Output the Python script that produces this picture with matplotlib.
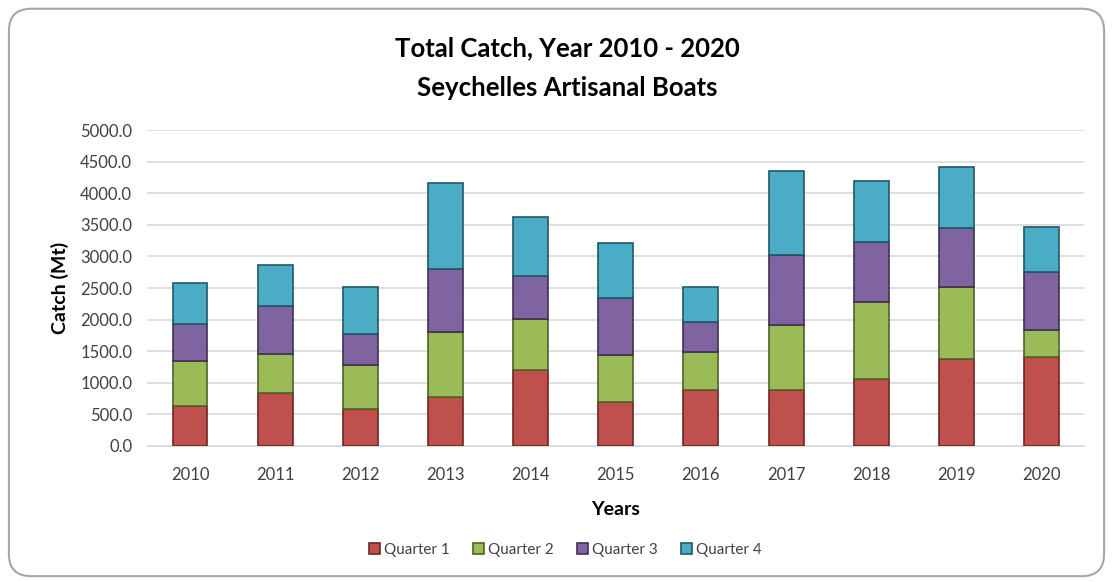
import matplotlib.pyplot as plt
from matplotlib.patches import FancyBboxPatch
from matplotlib.ticker import FormatStrFormatter

plt.rcParams['font.family'] = ['Lato', 'DejaVu Sans']

years = ['2010', '2011', '2012', '2013', '2014', '2015', '2016', '2017', '2018', '2019', '2020']
quarter_1 = [629, 840, 592, 776, 1199, 697, 882, 882, 1067, 1384, 1410]
quarter_2 = [717, 623, 686, 1030, 803, 739, 607, 1030, 1214, 1134, 422]
quarter_3 = [582, 750, 502, 992, 686, 898, 475, 1108, 950, 925, 924]
quarter_4 = [654, 649, 729, 1368, 939, 871, 554, 1335, 961, 966, 713]
labels = ['Quarter 1', 'Quarter 2', 'Quarter 3', 'Quarter 4']
colors = ['#c0504d', '#9bbb59', '#8064a2', '#4bacc6']
edges = ['#6e2624', '#4f6328', '#3f3151', '#205867']

fig = plt.figure(figsize=(11.13, 5.82), dpi=100)
border = FancyBboxPatch((0.008, 0.01), 0.984, 0.975,
                        boxstyle="round,pad=0,rounding_size=0.02",
                        transform=fig.transFigure, facecolor='white',
                        edgecolor='#a6a6a6', linewidth=1.5,
                        mutation_aspect=1113 / 582, zorder=-5)
fig.patches.append(border)

ax = fig.add_axes([0.1325, 0.2337, 0.8415, 0.5429])
ax.set_facecolor('none')

x = range(len(years))
bottom = [0] * len(years)
for vals, lab, c, ec in zip([quarter_1, quarter_2, quarter_3, quarter_4], labels, colors, edges):
    ax.bar(x, vals, width=0.41, bottom=bottom, color=c, edgecolor=ec,
           linewidth=1.2, label=lab, zorder=3)
    bottom = [b + v for b, v in zip(bottom, vals)]

ax.set_xlim(-0.5, len(years) - 0.5)
ax.set_ylim(0, 5000)
ax.set_yticks(range(0, 5001, 500))
ax.yaxis.set_major_formatter(FormatStrFormatter('%.1f'))
ax.set_xticks(list(x))
ax.set_xticklabels(years)
ax.grid(axis='y', color='#d9d9d9', linewidth=1.2, zorder=0)
for s in ['top', 'right', 'left']:
    ax.spines[s].set_visible(False)
ax.spines['bottom'].set_color('#d9d9d9')
ax.tick_params(length=0, labelsize=12, colors='#404040')
ax.tick_params(axis='x', pad=15)
ax.tick_params(axis='y', pad=11)

ax.set_xlabel('Years', fontsize=14, fontweight='bold', labelpad=13)
ax.set_ylabel('Catch (Mt)', fontsize=14, fontweight='bold', labelpad=8)

fig.text(0.51, 0.918, 'Total Catch, Year 2010 - 2020', ha='center', va='center',
         fontsize=18.5, fontweight='bold')
fig.text(0.51, 0.848, 'Seychelles Artisanal Boats', ha='center', va='center',
         fontsize=18.5, fontweight='bold')

ax.legend(loc='center', bbox_to_anchor=(0.508, 0.055), bbox_transform=fig.transFigure,
          ncol=4, frameon=False, fontsize=11, handlelength=0.7, handleheight=0.7,
          handletextpad=0.3, columnspacing=1.5, labelcolor='#404040')

fig.savefig('out.png', dpi=100)
